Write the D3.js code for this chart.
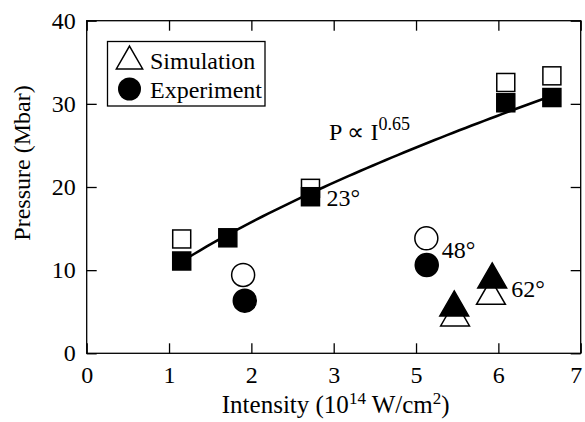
<!DOCTYPE html>
<html>
<head>
<meta charset="utf-8">
<script src="https://cdn.jsdelivr.net/npm/d3@7"></script>
<style>
  body { margin: 0; background: #fff; }
  svg text { font-family: "Liberation Serif", "Times New Roman", serif; fill: #000; }
</style>
</head>
<body>
<script>
var w = 585, h = 422;

// axis: evenly spaced ticks, labels as printed on the figure
var xTicks = [0, 1, 2, 3, 4, 5, 6];
var xTickLabels = ["0", "1", "2", "3", "5", "6", "7"];
var yTicks = [0, 10, 20, 30, 40];

// pressure points (x in tick units, y in Mbar)
var simSquares = [[1.154, 13.75], [2.718, 19.84], [5.09, 32.57], [5.65, 33.37]];
var expSquares = [[1.154, 11.1], [1.714, 13.89], [2.718, 18.83], [5.09, 30.13], [5.65, 30.76]];
var simCircles = [[1.90, 9.42], [4.125, 13.83]];
var expCircles = [[1.92, 6.33], [4.13, 10.62]];
var simTriangles = [[4.474, 4.29], [4.91, 6.89]];
var expTriangles = [[4.464, 5.50], [4.925, 8.86]];

// fit P = a * I^0.65
var fitA = 10.05, fitExp = 0.65, fitFrom = 1.154, fitTo = 5.65;

var angleLabels = ["23°", "48°", "62°"];

var x0 = 86.7, x1 = 580.7, y0 = 353.3, y1 = 20.7;
var x = d3.scaleLinear().domain([0, 6]).range([x0, x1]);
var y = d3.scaleLinear().domain([0, 40]).range([y0, y1]);

var svg = d3.select("body").append("svg")
  .attr("width", w).attr("height", h);

// frame
svg.append("rect")
  .attr("x", x0).attr("y", y1)
  .attr("width", x1 - x0).attr("height", y0 - y1)
  .attr("fill", "none").attr("stroke", "#000").attr("stroke-width", 1.3);

var tickLen = 10;
var gx = svg.append("g").attr("transform", "translate(0," + y0 + ")")
  .call(d3.axisBottom(x).tickValues(xTicks).tickSizeInner(-tickLen).tickSizeOuter(0)
    .tickPadding(13).tickFormat(function(d, i){ return xTickLabels[i]; }));
var gxt = svg.append("g").attr("transform", "translate(0," + y1 + ")")
  .call(d3.axisTop(x).tickValues(xTicks).tickSizeInner(-tickLen).tickSizeOuter(0).tickFormat(""));
var gy = svg.append("g").attr("transform", "translate(" + x0 + ",0)")
  .call(d3.axisLeft(y).tickValues(yTicks).tickSizeInner(-tickLen).tickSizeOuter(0).tickPadding(11));
var gyr = svg.append("g").attr("transform", "translate(" + x1 + ",0)")
  .call(d3.axisRight(y).tickValues(yTicks).tickSizeInner(-tickLen).tickSizeOuter(0).tickFormat(""));

[gx, gxt, gy, gyr].forEach(function(g){
  g.attr("font-family", null).attr("font-size", null);
  g.select(".domain").remove();
  g.selectAll(".tick line").attr("stroke", "#000").attr("stroke-width", 1.3);
  g.selectAll("text").style("font-size", "24px").attr("fill", "#000");
});
// last label sits at the page edge: keep it inside
gx.selectAll(".tick text").filter(function(d){ return d === 6; })
  .attr("text-anchor", "end").attr("dx", "1");

// axis titles
var xt = svg.append("text").attr("x", (x0 + x1) / 2 + 2).attr("y", 413)
  .attr("text-anchor", "middle").style("font-size", "25px");
xt.append("tspan").text("Intensity (10");
xt.append("tspan").attr("dy", -9).style("font-size", "17px").text("14");
xt.append("tspan").attr("dy", 9).text(" W/cm");
xt.append("tspan").attr("dy", -9).style("font-size", "17px").text("2");
xt.append("tspan").attr("dy", 9).text(")");

svg.append("text")
  .attr("transform", "translate(30,163) rotate(-90)")
  .attr("text-anchor", "middle").style("font-size", "24px")
  .text("Pressure (Mbar)");

// fit curve
var fitPts = d3.range(0, 61).map(function(i){
  var v = fitFrom + (fitTo - fitFrom) * i / 60;
  return [v, fitA * Math.pow(v, fitExp)];
});
svg.append("path").datum(fitPts)
  .attr("d", d3.line().x(function(d){ return x(d[0]); }).y(function(d){ return y(d[1]); }))
  .attr("fill", "none").attr("stroke", "#000").attr("stroke-width", 2.6);

var sq = 18;
function squares(data, fill){
  svg.append("g").selectAll("rect").data(data).enter().append("rect")
    .attr("x", function(d){ return x(d[0]) - sq / 2; })
    .attr("y", function(d){ return y(d[1]) - sq / 2; })
    .attr("width", sq).attr("height", sq)
    .attr("fill", fill).attr("stroke", "#000").attr("stroke-width", 1.5);
}
function circles(data, fill){
  svg.append("g").selectAll("circle").data(data).enter().append("circle")
    .attr("cx", function(d){ return x(d[0]); })
    .attr("cy", function(d){ return y(d[1]); })
    .attr("r", 11.5)
    .attr("fill", fill).attr("stroke", "#000").attr("stroke-width", 1.5);
}
var tri = d3.symbol().type(d3.symbolTriangle).size(360);
function triangles(data, fill){
  svg.append("g").selectAll("path").data(data).enter().append("path")
    .attr("transform", function(d){ return "translate(" + x(d[0]) + "," + y(d[1]) + ")"; })
    .attr("d", tri)
    .attr("fill", fill).attr("stroke", "#000").attr("stroke-width", 1.5);
}

squares(simSquares, "#fff");
squares(expSquares, "#000");
circles(simCircles, "#fff");
circles(expCircles, "#000");
triangles(simTriangles, "#fff");
triangles(expTriangles, "#000");

// angle labels, next to their groups
svg.append("text").attr("x", x(expSquares[2][0]) + 16).attr("y", 205.5).style("font-size", "24px").text(angleLabels[0]);
svg.append("text").attr("x", x(expCircles[1][0]) + 15).attr("y", 258).style("font-size", "24px").text(angleLabels[1]);
svg.append("text").attr("x", x(expTriangles[1][0]) + 19).attr("y", 297).style("font-size", "24px").text(angleLabels[2]);

// power law label
var pl = svg.append("text").attr("x", 329).attr("y", 140).style("font-size", "24px");
pl.append("tspan").text("P \u221D I");
pl.append("tspan").attr("dy", -10).style("font-size", "18px").text("0.65");

// legend
var lg = svg.append("g");
lg.append("rect").attr("x", 107.5).attr("y", 41.5).attr("width", 157.5).attr("height", 64.5)
  .attr("fill", "#fff").attr("stroke", "#000").attr("stroke-width", 1.3);
lg.append("path").attr("transform", "translate(129.5,61.3)")
  .attr("d", d3.symbol().type(d3.symbolTriangle).size(300))
  .attr("fill", "#fff").attr("stroke", "#000").attr("stroke-width", 1.5);
lg.append("circle").attr("cx", 129.5).attr("cy", 89).attr("r", 11.5).attr("fill", "#000");
lg.append("text").attr("x", 150).attr("y", 68.5).style("font-size", "24px").text("Simulation");
lg.append("text").attr("x", 150).attr("y", 97.5).style("font-size", "24px").text("Experiment");
</script>
</body>
</html>
